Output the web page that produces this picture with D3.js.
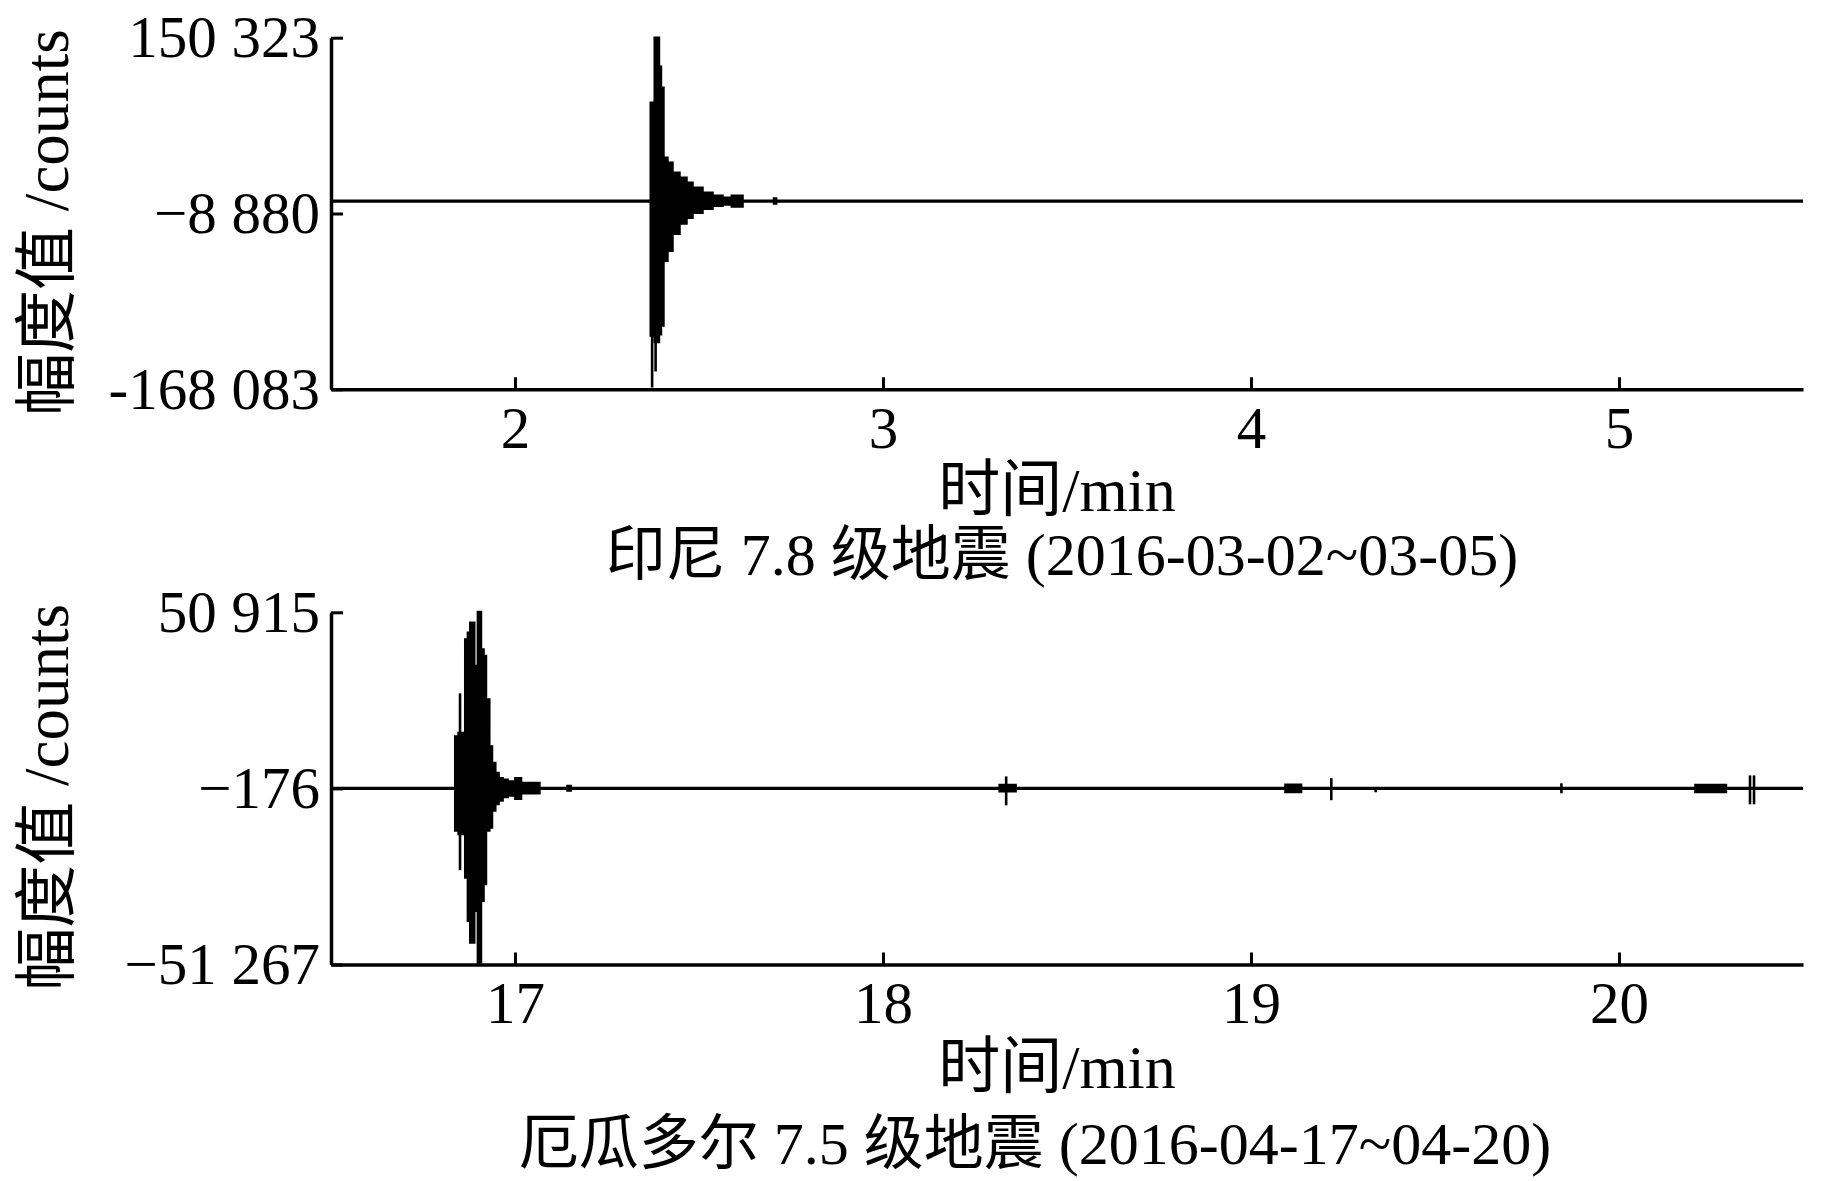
<!DOCTYPE html>
<html>
<head>
<meta charset="utf-8">
<script src="https://cdn.jsdelivr.net/npm/d3@7"></script>
<style>
body { margin: 0; background: #fff; }
text { font-family: "Liberation Serif", "Times New Roman", "Noto Sans CJK SC", serif; fill: #000; }
</style>
</head>
<body>
<script>
// ---- top panel: Indonesia M7.8 ----
const indoTitle = "印尼 7.8 级地震 (2016-03-02~03-05)";
const indoTimeDomain = [1.5, 5.5];
const indoTimeTicks = [2, 3, 4, 5];
const indoAmpDomain = [-168083, 150323];
const indoAmpTicks = [-168083, -8880, 150323];
const indoAmpLabels = ["-168 083", "\u22128 880", "150 323"];
// envelope: [time min, upper counts, lower counts]
const indoEnvelope = [
    [1.5, 2400, 2400],
    [2.3698, 91000, -119000],
    [2.3806, 150000, -125000],
    [2.3902, 123700, -118000],
    [2.3957, 104600, -110000],
    [2.4025, 41200, -51300],
    [2.4134, 36700, -42200],
    [2.4270, 27600, -26800],
    [2.4461, 23100, -17700],
    [2.4651, 18600, -12300],
    [2.4814, 14100, -7800],
    [2.5086, 9500, -4200],
    [2.5357, 6800, -1500],
    [2.5629, 5000, -400],
    [2.5901, 6800, -2300],
    [2.6174, 2400, 2400],
    [2.7047, 4300, 600],
    [2.7087, 2400, 2400],
    [5.5, 2400, 2400]
];
const indoSpikes = [
    [2.3726, 91000, -166500],
    [2.3821, 150300, -152000],
    [2.3943, 123700, -116000]
];

// ---- bottom panel: Ecuador M7.5 ----
const ecuTitle = "厄瓜多尔 7.5 级地震 (2016-04-17~04-20)";
const ecuTimeDomain = [16.5, 20.5];
const ecuTimeTicks = [17, 18, 19, 20];
const ecuAmpDomain = [-51267, 50915];
const ecuAmpTicks = [-51267, -176, 50915];
const ecuAmpLabels = ["\u221251 267", "\u2212176", "50 915"];
const ecuEnvelope = [
    [16.5, -150, -150],
    [16.8385, 14800, -12300],
    [16.8475, 15800, -13300],
    [16.8657, 42900, -25900],
    [16.8729, 44900, -38500],
    [16.8794, 47800, -44800],
    [16.8883, 35200, -35600],
    [16.9001, 50900, -50600],
    [16.9066, 40000, -32700],
    [16.9136, 38100, -27800],
    [16.9202, 25500, -12300],
    [16.9292, 11900, -11400],
    [16.9366, 7100, -6500],
    [16.9455, 4200, -4600],
    [16.9545, 2700, -3600],
    [16.9654, 2200, -2600],
    [16.9790, 1700, -2100],
    [17.0019, 2700, -3100],
    [17.0155, 1300, -1500],
    [17.0654, -150, -150],
    [17.1435, 400, -700],
    [17.1504, -150, -150],
    [18.3179, 700, -900],
    [18.3594, -150, -150],
    [19.0945, 800, -1100],
    [19.1351, -150, -150],
    [20.2086, 700, -1100],
    [20.2897, -150, -150],
    [20.5, -150, -150]
];
const ecuSpikes = [
    [16.8506, 27400, -23900],
    [18.3347, 3300, -5100],
    [19.2182, 2800, -3600],
    [19.3389, 200, -1300],
    [19.8435, 1300, -1600],
    [20.3560, 3600, -4800],
    [20.3669, 3600, -4800]
];

const xLabel = "时间/min";
const yLabel = "幅度值 /counts";

const width = 1843, height = 1181;
const left = 331, right = 1803;

const svg = d3.select("body")
    .append("svg")
    .attr("width", width)
    .attr("height", height);

const panels = [
    { top: 37.7, bottom: 389.3, titleX: 1062, titleDy: 186, labelDy: 122,
      tDomain: indoTimeDomain, tTicks: indoTimeTicks, aDomain: indoAmpDomain,
      aTicks: indoAmpTicks, aLabels: indoAmpLabels, env: indoEnvelope, spikes: indoSpikes, title: indoTitle },
    { top: 612.3, bottom: 964.5, titleX: 1035, titleDy: 199, labelDy: 123,
      tDomain: ecuTimeDomain, tTicks: ecuTimeTicks, aDomain: ecuAmpDomain,
      aTicks: ecuAmpTicks, aLabels: ecuAmpLabels, env: ecuEnvelope, spikes: ecuSpikes, title: ecuTitle }
];

panels.forEach(p => {
    const x = d3.scaleLinear().domain(p.tDomain).range([left, right]);
    const y = d3.scaleLinear().domain(p.aDomain).range([p.bottom, p.top]);

    // waveform envelope
    const area = d3.area()
        .curve(d3.curveStepAfter)
        .x(d => x(d[0]))
        .y0(d => y(d[2]))
        .y1(d => y(d[1]));

    svg.append("path")
        .datum(p.env)
        .attr("d", area)
        .attr("fill", "#000")
        .attr("stroke", "#000")
        .attr("stroke-width", 3.2);

    svg.selectAll(null)
        .data(p.spikes)
        .enter().append("line")
        .attr("x1", d => x(d[0]))
        .attr("x2", d => x(d[0]))
        .attr("y1", d => y(d[1]))
        .attr("y2", d => y(d[2]))
        .attr("stroke", "#000")
        .attr("stroke-width", 2.6);

    // axes, ticks pointing inward
    const gx = svg.append("g")
        .attr("transform", `translate(0,${p.bottom})`)
        .call(d3.axisBottom(x).tickValues(p.tTicks).tickSize(-12).tickSizeOuter(0).tickPadding(17).tickFormat(d3.format("d")));
    const gy = svg.append("g")
        .attr("transform", `translate(${left},0)`)
        .call(d3.axisLeft(y).tickValues(p.aTicks).tickSize(-12).tickSizeOuter(0).tickPadding(11)
            .tickFormat((d, i) => p.aLabels[i]));

    [gx, gy].forEach(g => {
        g.select(".domain").attr("stroke-width", 3.5);
        g.selectAll(".tick line").attr("stroke-width", 3);
        g.selectAll("text").style("font-size", "59px")
            .style("font-family", "'Liberation Serif', 'Times New Roman', serif");
    });

    // labels
    svg.append("text")
        .attr("x", 1057)
        .attr("y", p.bottom + p.labelDy)
        .attr("text-anchor", "middle")
        .style("font-size", "62px")
        .text(xLabel);

    svg.append("text")
        .attr("x", p.titleX)
        .attr("y", p.bottom + p.titleDy)
        .attr("text-anchor", "middle")
        .style("font-size", "60px")
        .text(p.title);

    svg.append("text")
        .attr("transform", `translate(68,${(p.top + p.bottom) / 2 + 9}) rotate(-90)`)
        .attr("text-anchor", "middle")
        .style("font-size", "63px")
        .text(yLabel);
});
</script>
</body>
</html>
